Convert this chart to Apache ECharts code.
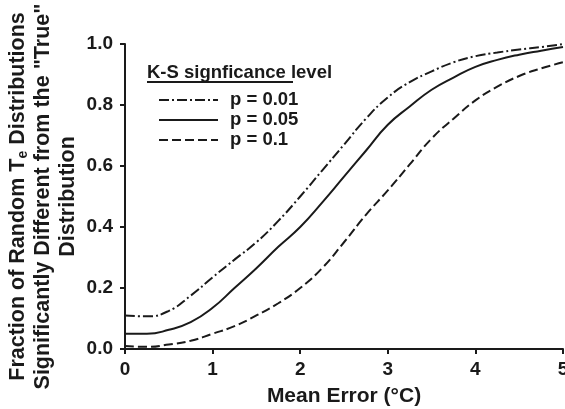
<!DOCTYPE html>
<html>
<head>
<meta charset="utf-8">
<script src="https://cdn.jsdelivr.net/npm/echarts@6/dist/echarts.min.js"></script>
<style>
  html, body { margin: 0; padding: 0; background: #fff; }
  #chart { width: 565px; height: 409px; }
</style>
</head>
<body>
<div id="chart"></div>
<script>
// mean error (°C)
const meanError = [0, 0.25, 0.5, 0.75, 1, 1.25, 1.5, 1.75, 2, 2.25, 2.5, 2.75, 3, 3.25, 3.5, 3.75, 4, 4.25, 4.5, 4.75, 5];
// fraction significantly different, per K-S level
const p001 = [0.11, 0.107, 0.125, 0.175, 0.235, 0.293, 0.35, 0.42, 0.5, 0.585, 0.67, 0.755, 0.825, 0.875, 0.91, 0.94, 0.96, 0.972, 0.982, 0.99, 1.0];
const p005 = [0.05, 0.05, 0.063, 0.088, 0.135, 0.2, 0.265, 0.335, 0.4, 0.48, 0.565, 0.65, 0.735, 0.795, 0.85, 0.89, 0.925, 0.948, 0.965, 0.978, 0.99];
const p01 = [0.01, 0.007, 0.015, 0.027, 0.05, 0.075, 0.11, 0.15, 0.2, 0.265, 0.35, 0.44, 0.52, 0.605, 0.69, 0.755, 0.815, 0.86, 0.895, 0.92, 0.94];
const seriesNames = ["p = 0.01", "p = 0.05", "p = 0.1"];

const FONT = "'Liberation Sans', Arial, sans-serif";
const INK = "#1a1a1a";

const pairs = (ys) => meanError.map((x, i) => [x, ys[i]]);

const chart = echarts.init(document.getElementById("chart"), null, { renderer: "canvas" });
chart.setOption({
  animation: false,
  textStyle: { fontFamily: FONT, fontWeight: "bold", color: INK },
  grid: { left: 125, right: 2, top: 44, bottom: 60, outerBoundsMode: "none", containLabel: false },
  title: {
    text: "K-S signficance level",
    left: 142,
    top: 58,
    textStyle: { fontFamily: FONT, fontWeight: "bold", fontSize: 18.5, color: INK },
  },
  graphic: [
    {
      type: "line",
      shape: { x1: 147, y1: 82, x2: 293, y2: 82 },
      style: { stroke: INK, lineWidth: 2 },
    },
  ],
  legend: {
    orient: "vertical",
    left: 153,
    top: 85,
    itemWidth: 59,
    itemHeight: 14,
    itemGap: 0,
    data: seriesNames,
    itemStyle: { opacity: 0 },
    textStyle: { fontFamily: FONT, fontWeight: "bold", fontSize: 18.5, lineHeight: 20, color: INK, padding: [0, 0, 0, 7] },
  },
  xAxis: {
    type: "value",
    min: 0,
    max: 5,
    interval: 1,
    name: "Mean Error (\u00B0C)",
    nameLocation: "middle",
    nameGap: 37,
    nameMoveOverlap: false,
    nameTextStyle: { fontFamily: FONT, fontWeight: "bold", fontSize: 21, color: INK },
    axisLine: { lineStyle: { color: INK, width: 2 } },
    axisTick: { length: 5, lineStyle: { color: INK, width: 2 } },
    axisLabel: { margin: 11, fontFamily: FONT, fontWeight: "bold", fontSize: 19, color: INK },
    splitLine: { show: false },
  },
  yAxis: {
    type: "value",
    min: 0,
    max: 1,
    interval: 0.2,
    name: "{n|Fraction of Random T}{s|e}{n| Distributions}\n{n|Significantly Different from the \"True\"}\n{n|Distribution}",
    nameLocation: "middle",
    nameGap: 44,
    nameMoveOverlap: false,
    nameTextStyle: {
      fontFamily: FONT,
      fontWeight: "bold",
      color: INK,
      rich: {
        n: { fontFamily: FONT, fontWeight: "bold", fontSize: 21.5, color: INK, lineHeight: 25 },
        s: { fontFamily: FONT, fontWeight: "bold", fontSize: 14, color: INK, lineHeight: 25, padding: [10, 0, 0, 0] },
      },
    },
    axisLine: { show: true, lineStyle: { color: INK, width: 2 } },
    axisTick: { show: true, length: 5, lineStyle: { color: INK, width: 2 } },
    axisLabel: {
      margin: 12,
      fontFamily: FONT,
      fontWeight: "bold",
      fontSize: 19,
      color: INK,
      formatter: (v) => v.toFixed(1),
    },
    splitLine: { show: false },
  },
  series: [
    {
      name: seriesNames[0],
      type: "line",
      data: pairs(p001),
      smooth: true,
      symbol: "none",
      lineStyle: { color: INK, width: 2, type: [10, 3, 2, 3] },
      itemStyle: { color: INK },
    },
    {
      name: seriesNames[1],
      type: "line",
      data: pairs(p005),
      smooth: true,
      symbol: "none",
      lineStyle: { color: INK, width: 2, type: "solid" },
      itemStyle: { color: INK },
    },
    {
      name: seriesNames[2],
      type: "line",
      data: pairs(p01),
      smooth: true,
      symbol: "none",
      lineStyle: { color: INK, width: 2, type: [9, 4] },
      itemStyle: { color: INK },
    },
  ],
});
</script>
</body>
</html>
